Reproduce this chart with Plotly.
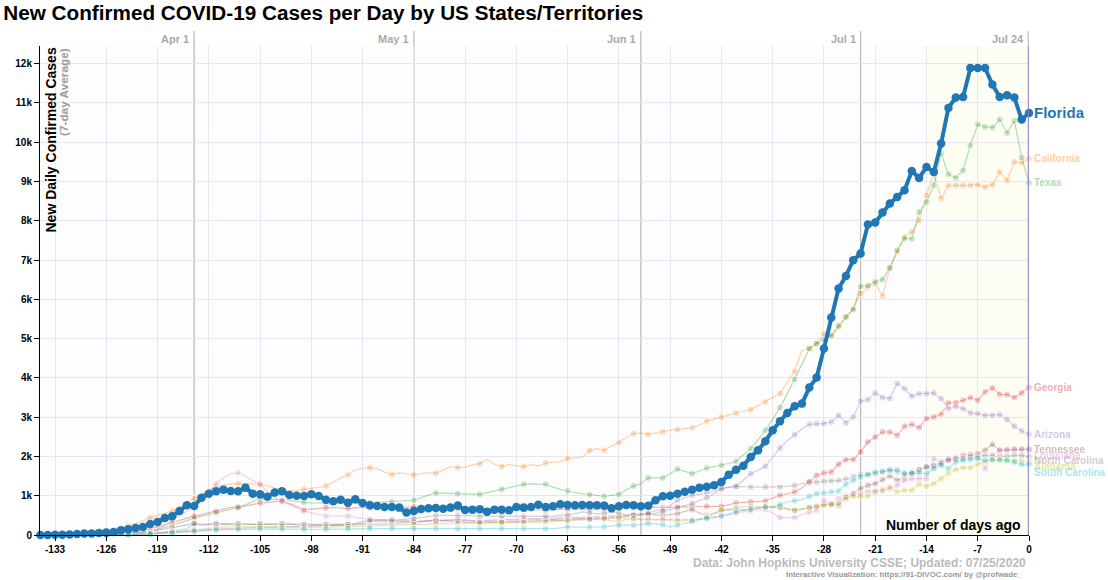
import plotly.graph_objects as go

# ---------------- data ----------------
days = list(range(-135, 1))

florida = [
    0, 0, 5, 8, 15, 25, 36, 40, 50, 61,
    77, 120, 145, 179, 204, 280, 331, 433, 476, 611,
    756, 739, 951, 1053, 1112, 1155, 1121, 1112, 1206, 1053,
    1036, 977, 1079, 1115, 1019, 1002, 994, 1036, 994, 900,
    858, 900, 824, 909, 815, 756, 739, 714, 714, 697,
    570, 611, 662, 680, 688, 671, 697, 748, 637, 646,
    654, 595, 646, 646, 629, 714, 697, 714, 773, 714,
    731, 782, 764, 756, 764, 756, 756, 748, 680, 731,
    764, 756, 730, 745, 884, 986, 1002, 1053, 1104, 1155,
    1206, 1231, 1265, 1350, 1537, 1664, 1766, 1987, 2157, 2386,
    2666, 2895, 3108, 3277, 3345, 3753, 4008, 4746, 5536, 6274,
    6596, 6995, 7165, 7904, 7955, 8209, 8438, 8608, 8778, 9269,
    9091, 9371, 9244, 9967, 10874, 11138, 11154, 11892, 11892, 11892,
    11469, 11154, 11197, 11138, 10578, 10746,
]

# California's series starts a few days before the visible window
california_days = list(range(-140, 1))
california = [
    0, 0, 2, 3, 4,
    5, 8, 10, 15, 20, 30, 45, 60, 80, 105,
    140, 180, 230, 290, 360, 442, 500, 560, 611, 720,
    830, 926, 1050, 1150, 1220, 1270, 1300, 1308, 1310, 1300,
    1291, 1250, 1200, 1140, 1130, 1121, 1163, 1180, 1210, 1248,
    1350, 1450, 1528, 1650, 1700, 1715, 1690, 1600, 1537, 1580,
    1560, 1528, 1560, 1590, 1571, 1650, 1740, 1715, 1720, 1790,
    1817, 1920, 1800, 1741, 1790, 1760, 1741, 1790, 1760, 1834,
    1850, 1870, 1945, 1960, 1980, 2149, 2200, 2157, 2270, 2353,
    2480, 2582, 2600, 2564, 2600, 2623, 2670, 2683, 2700, 2734,
    2800, 2903, 2950, 3005, 3050, 3107, 3150, 3193, 3300, 3387,
    3500, 3601, 3900, 4168, 4703, 4746, 4874, 5128, 5060, 5297,
    5552, 5765, 6147, 6300, 6400, 6080, 6800, 7200, 7590, 7720,
    8010, 8650, 9200, 8570, 8900, 8900, 8900, 8900, 8920, 8860,
    8920, 9240, 9030, 9500, 9480, 9580,
]

texas = [
    0, 2, 4, 6, 8, 10, 14, 18, 22, 28,
    35, 45, 55, 70, 85, 100, 140, 190, 250, 310,
    370, 420, 480, 520, 561, 600, 650, 700, 770, 850,
    926, 920, 900, 909, 880, 860, 830, 820, 815, 815,
    810, 800, 799, 805, 810, 820, 830, 835, 841, 850,
    870, 884, 950, 1020, 1070, 1065, 1060, 1053, 1045, 1040,
    1036, 1080, 1120, 1163, 1200, 1250, 1291, 1300, 1295, 1291,
    1220, 1160, 1121, 1080, 1050, 1028, 1000, 986, 1010, 1036,
    1150, 1248, 1308, 1452, 1452, 1452, 1560, 1681, 1620, 1562,
    1630, 1706, 1740, 1775, 1820, 1877, 2030, 2199, 2430, 2666,
    2950, 3243, 3600, 3957, 4350, 4746, 4874, 4976, 5085, 5322,
    5552, 5739, 6333, 6350, 6450, 6500, 6800, 7250, 7550, 7540,
    8225, 8480, 8905, 9712, 9185, 9091, 9287, 9924, 10451, 10390,
    10374, 10578, 10237, 10543, 9610, 8964,
]

georgia = [
    0, 0, 1, 2, 3, 5, 8, 12, 18, 25,
    35, 50, 70, 95, 125, 160, 200, 260, 320, 380,
    430, 476, 520, 560, 600, 650, 705, 705, 740, 780,
    815, 830, 850, 866, 800, 720, 646, 660, 680, 690,
    700, 690, 680, 690, 700, 690, 700, 710, 700, 705,
    710, 714, 700, 690, 680, 690, 680, 670, 660, 650,
    630, 640, 650, 650, 660, 660, 650, 640, 640, 630,
    640, 660, 650, 660, 660, 650, 660, 670, 680, 690,
    700, 705, 714, 710, 705, 700, 705, 714, 720, 725,
    730, 730, 730, 730, 770, 815, 830, 841, 850, 866,
    940, 1011, 1050, 1096, 1200, 1350, 1520, 1579, 1604, 1800,
    1919, 1919, 2114, 2369, 2496, 2623, 2623, 2539, 2768, 2819,
    2734, 2964, 3005, 3073, 3362, 3370, 3430, 3499, 3430, 3642,
    3743, 3583, 3575, 3499, 3616, 3753,
]

arizona = [
    0, 0, 0, 1, 1, 2, 3, 4, 5, 6,
    8, 10, 15, 20, 25, 35, 45, 60, 70, 85,
    100, 115, 125, 135, 150, 160, 170, 175, 180, 185,
    190, 195, 200, 205, 210, 210, 215, 220, 225, 230,
    235, 240, 245, 250, 255, 260, 270, 280, 290, 300,
    310, 320, 340, 360, 370, 380, 390, 390, 380, 370,
    360, 370, 380, 390, 400, 400, 410, 420, 410, 400,
    400, 410, 420, 430, 440, 450, 470, 480, 490, 480,
    470, 480, 500, 560, 620, 646, 750, 884, 950, 1011,
    1040, 1070, 1120, 1181, 1210, 1240, 1400, 1562, 1650, 1749,
    1980, 2216, 2400, 2556, 2700, 2819, 2836, 2836, 2878, 3048,
    2852, 3005, 3412, 3447, 3616, 3499, 3473, 3855, 3728, 3532,
    3600, 3600, 3616, 3473, 3218, 3277, 3218, 3107, 3091, 3048,
    3048, 3065, 2938, 2768, 2649, 2564,
]

tennessee = [
    0, 0, 0, 1, 2, 3, 5, 8, 12, 16,
    22, 30, 40, 55, 70, 90, 120, 150, 180, 210,
    250, 289, 280, 270, 280, 290, 280, 285, 280, 270,
    280, 275, 270, 280, 285, 260, 250, 255, 250, 240,
    245, 250, 260, 280, 300, 340, 360, 350, 340, 350,
    360, 340, 350, 360, 370, 360, 350, 360, 330, 320,
    310, 320, 330, 320, 330, 340, 350, 360, 370, 380,
    380, 370, 380, 390, 400, 420, 430, 440, 450, 470,
    500, 520, 544, 530, 520, 502, 520, 544, 600, 646,
    560, 500, 560, 629, 640, 646, 646, 646, 680, 714,
    705, 697, 660, 629, 660, 697, 714, 782, 782, 756,
    986, 1053, 1181, 1265, 1308, 1410, 1500, 1393, 1477, 1562,
    1647, 1732, 1732, 1860, 1945, 1971, 2004, 2029, 2055, 2157,
    2310, 2157, 2157, 2174, 2182, 2182,
]

louisiana = [
    0, 0, 0, 0, 1, 2, 3, 5, 8, 12,
    18, 25, 35, 50, 70, 100, 150, 250, 380, 500,
    600, 700, 850, 1100, 1308, 1450, 1560, 1580, 1500, 1380,
    1291, 1100, 950, 860, 750, 680, 611, 560, 520, 484,
    480, 484, 484, 450, 420, 400, 390, 380, 374, 360,
    340, 331, 340, 360, 374, 370, 374, 380, 370, 360,
    340, 345, 350, 340, 345, 350, 374, 390, 400, 417,
    430, 450, 459, 440, 420, 400, 410, 417, 360, 340,
    400, 420, 390, 380, 385, 400, 395, 390, 385, 390,
    410, 442, 460, 476, 520, 561, 590, 611, 630, 646,
    560, 442, 440, 442, 520, 586, 629, 884, 782, 926,
    901, 1053, 1050, 1100, 1130, 1160, 1180, 1265, 1390, 1435,
    1435, 1435, 1945, 1817, 1900, 1920, 2030, 2055, 2070, 1690,
    2030, 2157, 2174, 2182, 2182, 2182,
]

north_carolina = [
    0, 0, 0, 1, 1, 2, 3, 4, 6, 8,
    10, 14, 18, 25, 35, 45, 60, 80, 100, 130,
    160, 289, 250, 270, 280, 270, 280, 275, 280, 270,
    280, 275, 270, 280, 280, 275, 272, 270, 272, 272,
    275, 272, 272, 300, 350, 374, 380, 390, 374, 390,
    400, 417, 440, 470, 502, 500, 495, 502, 490, 480,
    476, 480, 470, 476, 480, 476, 470, 476, 470, 476,
    480, 500, 502, 540, 586, 560, 540, 560, 586, 560,
    520, 500, 520, 540, 560, 600, 650, 700, 750, 800,
    880, 950, 1050, 1180, 1220, 1240, 1230, 1220, 1220, 1220,
    1225, 1220, 1240, 1260, 1300, 1350, 1350, 1370, 1380, 1390,
    1420, 1480, 1545, 1545, 1560, 1604, 1664, 1604, 1545, 1604,
    1664, 1732, 1775, 1834, 1902, 1945, 1945, 1987, 1987, 2029,
    2004, 2004, 2004, 2029, 2029, 1990,
]

alabama = [
    0, 0, 0, 0, 0, 1, 1, 2, 3, 4,
    5, 7, 10, 15, 20, 30, 40, 55, 70, 90,
    110, 130, 150, 170, 190, 200, 205, 210, 210, 215,
    220, 215, 210, 215, 200, 190, 190, 195, 195, 200,
    200, 205, 210, 215, 220, 220, 230, 240, 250, 260,
    262, 266, 270, 275, 280, 285, 290, 295, 300, 305,
    305, 300, 310, 315, 320, 315, 310, 320, 330, 340,
    350, 360, 374, 380, 390, 400, 410, 420, 430, 430,
    420, 415, 417, 410, 400, 391, 380, 357, 365, 374,
    400, 442, 520, 629, 660, 697, 715, 731, 731, 731,
    720, 714, 680, 629, 660, 697, 731, 756, 782, 815,
    952, 986, 986, 986, 1096, 1121, 1223, 1096, 1138, 1138,
    1291, 1240, 1308, 1435, 1579, 1664, 1715, 1715, 1800, 1860,
    1902, 1902, 1885, 1885, 1885, 1860,
]

south_carolina = [
    0, 0, 0, 0, 0, 0, 1, 1, 2, 3,
    4, 5, 7, 10, 15, 20, 28, 38, 50, 65,
    80, 95, 110, 120, 130, 137, 140, 145, 150, 155,
    160, 160, 155, 150, 145, 140, 137, 137, 140, 145,
    150, 155, 162, 162, 162, 160, 162, 162, 162, 162,
    162, 162, 162, 160, 160, 162, 162, 162, 165, 165,
    162, 162, 165, 165, 162, 162, 165, 165, 162, 162,
    165, 180, 204, 200, 205, 204, 210, 204, 230, 246,
    260, 246, 270, 290, 290, 260, 204, 250, 306, 350,
    391, 420, 442, 490, 544, 590, 629, 665, 697, 705,
    714, 780, 841, 870, 901, 980, 1053, 1070, 1096, 1121,
    1291, 1393, 1477, 1537, 1604, 1621, 1647, 1664, 1579, 1562,
    1579, 1562, 1690, 1775, 1690, 1860, 1902, 1919, 1945, 1902,
    1919, 1919, 1902, 1860, 1800, 1800,
]

states = ["Florida", "California", "Texas", "Georgia", "Arizona", "Tennessee",
          "Louisiana", "North Carolina", "Alabama", "South Carolina"]
series = [florida, california, texas, georgia, arizona, tennessee,
          louisiana, north_carolina, alabama, south_carolina]
series_days = [days, california_days] + [days] * 8
colors = ["#1f77b4", "#ff7f0e", "#2ca02c", "#d62728", "#9467bd", "#8c564b",
          "#e377c2", "#7f7f7f", "#bcbd22", "#17becf"]

x_ticks = list(range(-133, 1, 7))
y_ticks = list(range(0, 12001, 1000))
y_tick_labels = ["0"] + [f"{k}k" for k in range(1, 13)]

event_labels = ["Apr 1", "May 1", "Jun 1", "Jul 1", "Jul 24"]
event_days = [-114, -84, -53, -23, 0]
highlight_start = -14

for s, dd in zip(series, series_days):
    assert len(s) == len(dd), len(s)

# ---------------- helpers ----------------
FONT = "Liberation Sans, Arial, Helvetica, sans-serif"
W, H = 1108, 580
ML, MR, MT, MB = 40, 79, 46, 45
PLOT_H = H - MT - MB
PLOT_W = W - ML - MR
X_RANGE = [-135.05, 0]
Y_RANGE = [0, 12450]


def rgba(hexc, a):
    hexc = hexc.lstrip("#")
    r, g, b = int(hexc[0:2], 16), int(hexc[2:4], 16), int(hexc[4:6], 16)
    return f"rgba({r},{g},{b},{a})"


def py(ypix):
    return (H - MB - ypix) / PLOT_H


def px(xpix):
    return (xpix - ML) / PLOT_W


def dot_size(d, s):
    if d > -30:
        return s
    if d > -60:
        return s if d % 2 == 0 else 0
    return s if d % 3 == 0 else 0


fig = go.Figure()

# faint states
for name, dd, vals, col in list(zip(states, series_days, series, colors))[1:]:
    fig.add_trace(go.Scatter(
        x=dd, y=vals, mode="lines+markers", name=name,
        line=dict(color=rgba(col, 0.35), width=1.2),
        marker=dict(color=rgba(col, 0.35), size=[dot_size(d, 7) for d in dd]),
        cliponaxis=False, showlegend=False, hoverinfo="skip",
    ))

# Florida on top
fig.add_trace(go.Scatter(
    x=days, y=florida, mode="lines+markers", name="Florida",
    line=dict(color=colors[0], width=4),
    marker=dict(color=colors[0], size=8.5),
    cliponaxis=False, showlegend=False,
))

# ---------------- shapes ----------------
shapes = [
    dict(type="rect", xref="x", yref="paper", x0=highlight_start, x1=0, y0=0, y1=1,
         fillcolor="rgba(255,255,200,0.2)", line=dict(width=0), layer="below"),
]
top_y = py(31)
for lab, d in zip(event_labels, event_days):
    if d == 0:
        shapes.append(dict(type="line", xref="x", yref="paper", x0=d, x1=d, y0=1, y1=top_y,
                           line=dict(color="#cfcfcf", width=3), layer="above"))
        shapes.append(dict(type="line", xref="x", yref="paper", x0=d, x1=d, y0=0, y1=1,
                           line=dict(color="rgba(140,130,190,0.85)", width=2.5), layer="above"))
    else:
        shapes.append(dict(type="line", xref="x", yref="paper", x0=d, x1=d, y0=0, y1=top_y,
                           line=dict(color="#bdbdbd", width=1.3), layer="between"))

# ---------------- annotations ----------------
ann = []
for lab, d in zip(event_labels, event_days):
    ann.append(dict(text=lab, x=d, xref="x", y=py(39), yref="paper", xanchor="right",
                    yanchor="middle", xshift=-3, showarrow=False,
                    font=dict(family=FONT, size=11, color="#aaaaaa", weight="bold")))

ann.append(dict(text="New Daily Confirmed Cases", textangle=-90, x=px(50), xref="paper",
                y=py(46), yref="paper", xanchor="center", yanchor="top", showarrow=False,
                font=dict(family=FONT, size=14, color="#000000", weight="bold")))
ann.append(dict(text="(7-day Average)", textangle=-90, x=px(64), xref="paper",
                y=py(46), yref="paper", xanchor="center", yanchor="top", showarrow=False,
                font=dict(family=FONT, size=11.8, color="#9a9a9a", weight="bold")))
ann.append(dict(text="Number of days ago", x=px(1023), xref="paper", y=py(525), yref="paper",
                xanchor="right", yanchor="middle", showarrow=False,
                font=dict(family=FONT, size=14, color="#000000", weight="bold")))
ann.append(dict(text="Data: John Hopkins University CSSE; Updated: 07/25/2020",
                x=px(1028), xref="paper", y=py(563), yref="paper", xanchor="right",
                yanchor="middle", showarrow=False,
                font=dict(family=FONT, size=12, color="#bbbbbb", weight="bold")))
ann.append(dict(text="Interactive Visualization: https://91-DIVOC.com/ by @profwade_",
                x=px(1024), xref="paper", y=py(574), yref="paper", xanchor="right",
                yanchor="middle", showarrow=False,
                font=dict(family=FONT, size=7.8, color="#999999", weight="bold")))

# end labels
ann.append(dict(text="Florida", x=0, xref="x", y=florida[-1], yref="y", xanchor="left",
                yanchor="middle", xshift=3, showarrow=False,
                font=dict(family=FONT, size=15, color=colors[0], weight="bold")))
gap = 5.8 * (Y_RANGE[1] - Y_RANGE[0]) / PLOT_H
faint = sorted(range(1, len(states)), key=lambda i: -series[i][-1])
prev = None
for i in faint:
    yv = series[i][-1]
    if prev is not None and yv > prev - gap:
        yv = prev - gap
    prev = yv
    ann.append(dict(text=states[i], x=0, xref="x", y=yv, yref="y", xanchor="left",
                    yanchor="middle", xshift=3, showarrow=False,
                    font=dict(family=FONT, size=10, color=rgba(colors[i], 0.4), weight="bold")))

fig.update_layout(
    width=W, height=H,
    margin=dict(l=ML, r=MR, t=MT, b=MB),
    paper_bgcolor="#ffffff",
    plot_bgcolor="#fdfdfe",
    title=dict(text="New Confirmed COVID-19 Cases per Day by US States/Territories",
               x=0.003, xanchor="left", xref="container", y=1 - 13 / H, yanchor="middle",
               font=dict(family=FONT, size=20.7, color="#000000", weight="bold")),
    xaxis=dict(range=X_RANGE, tickvals=x_ticks, ticktext=[str(t) for t in x_ticks],
               ticks="outside", ticklen=5, tickcolor="#000", showline=True, linecolor="#000",
               linewidth=1, gridcolor="#e8e5f2", gridwidth=1, zeroline=False,
               tickfont=dict(family=FONT, size=10, color="#000", weight="bold")),
    yaxis=dict(range=Y_RANGE, tickvals=y_ticks, ticktext=y_tick_labels,
               ticks="outside", ticklen=5, tickcolor="#000", showline=True, linecolor="#000",
               linewidth=1, gridcolor="#e8e5f2", gridwidth=1, zeroline=False,
               tickfont=dict(family=FONT, size=10, color="#000", weight="bold")),
    shapes=shapes,
    annotations=ann,
    showlegend=False,
)

# remove the browser's default page margin so the figure sits at the window origin
fig.write_html("out.html", config={"displayModeBar": False},
               post_script="document.body.style.margin='0';")
